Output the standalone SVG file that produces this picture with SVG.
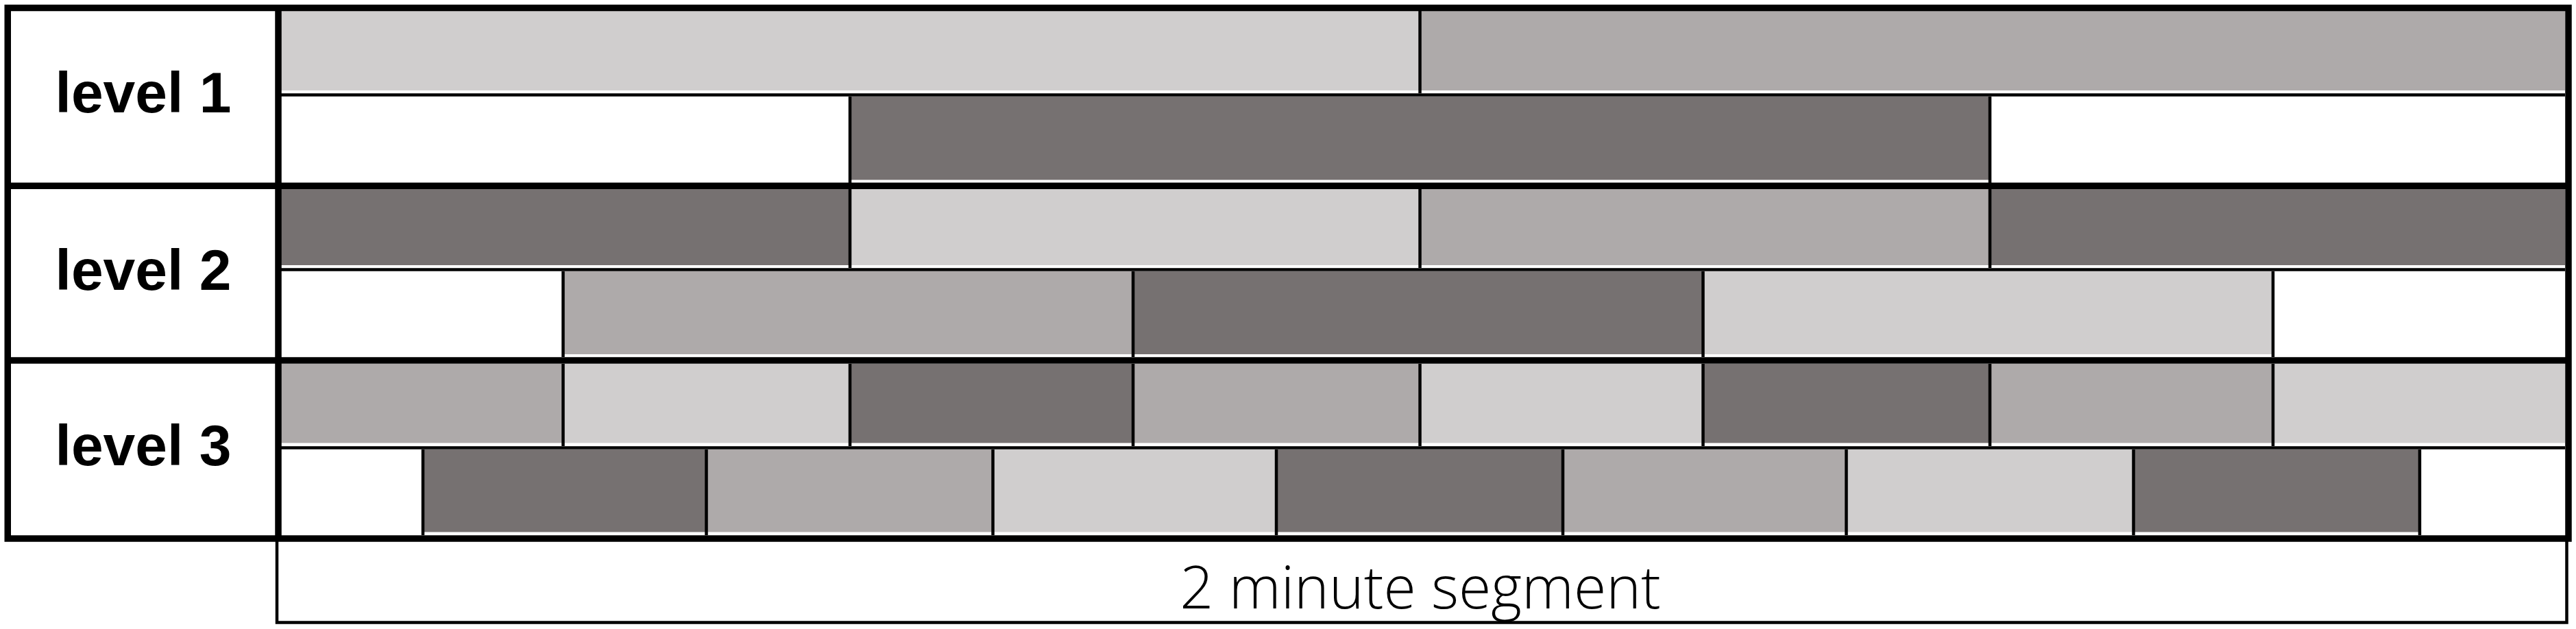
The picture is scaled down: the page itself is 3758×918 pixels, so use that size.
<svg xmlns="http://www.w3.org/2000/svg" width="3758" height="918" viewBox="0 0 3758 918">
<style>
.lt{fill:#D0CECE}
.md{fill:#AEAAAA}
.dk{fill:#767171}
.dv{stroke:#000;stroke-width:4.5;fill:none}
.thin{stroke:#000;stroke-width:4.5;fill:none}
.thick{stroke:#000;stroke-width:9.5;fill:none}
.lbl{font-family:"Liberation Sans",Arial,sans-serif;font-weight:bold;font-size:84px;fill:#000;text-anchor:middle}
.cap{font-family:"Open Sans","Liberation Sans",sans-serif;font-weight:300;font-size:86px;fill:#000;text-anchor:middle}
</style>
<rect x="0" y="0" width="3758" height="918" fill="#fff"/>

<g id="level1">
  <text class="lbl" x="209" y="164">level 1</text>
  <rect class="lt" x="410" y="16" width="1661.5" height="116"/>
  <rect class="md" x="2071.5" y="16" width="1670.5" height="116"/>
  <line class="dv" x1="2071.5" y1="16" x2="2071.5" y2="136"/>
  <rect class="dk" x="1240" y="141" width="1663" height="121.5"/>
  <line class="dv" x1="1240" y1="141" x2="1240" y2="267"/>
  <line class="dv" x1="2903" y1="141" x2="2903" y2="267"/>
</g>

<g id="level2">
  <text class="lbl" x="209" y="423">level 2</text>
  <rect class="dk" x="410" y="276" width="830" height="111"/>
  <rect class="lt" x="1240" y="276" width="831.5" height="111"/>
  <rect class="md" x="2071.5" y="276" width="831.5" height="111"/>
  <rect class="dk" x="2903" y="276" width="839" height="111"/>
  <line class="dv" x1="1240" y1="276" x2="1240" y2="391"/>
  <line class="dv" x1="2071.5" y1="276" x2="2071.5" y2="391"/>
  <line class="dv" x1="2903" y1="276" x2="2903" y2="391"/>
  <rect class="md" x="821.5" y="396" width="831.5" height="121"/>
  <rect class="dk" x="1653" y="396" width="831.5" height="121"/>
  <rect class="lt" x="2484.5" y="396" width="831.5" height="121"/>
  <line class="dv" x1="821.5" y1="396" x2="821.5" y2="521"/>
  <line class="dv" x1="1653" y1="396" x2="1653" y2="521"/>
  <line class="dv" x1="2484.5" y1="396" x2="2484.5" y2="521"/>
  <line class="dv" x1="3316" y1="396" x2="3316" y2="521"/>
</g>

<g id="level3">
  <text class="lbl" x="209" y="679">level 3</text>
  <rect class="md" x="410" y="531" width="411.5" height="115.5"/>
  <rect class="lt" x="821.5" y="531" width="418.5" height="115.5"/>
  <rect class="dk" x="1240" y="531" width="413" height="115.5"/>
  <rect class="md" x="1653" y="531" width="418.5" height="115.5"/>
  <rect class="lt" x="2071.5" y="531" width="413" height="115.5"/>
  <rect class="dk" x="2484.5" y="531" width="418.5" height="115.5"/>
  <rect class="md" x="2903" y="531" width="413" height="115.5"/>
  <rect class="lt" x="3316" y="531" width="426" height="115.5"/>
  <line class="dv" x1="821.5" y1="531" x2="821.5" y2="651"/>
  <line class="dv" x1="1240" y1="531" x2="1240" y2="651"/>
  <line class="dv" x1="1653" y1="531" x2="1653" y2="651"/>
  <line class="dv" x1="2071.5" y1="531" x2="2071.5" y2="651"/>
  <line class="dv" x1="2484.5" y1="531" x2="2484.5" y2="651"/>
  <line class="dv" x1="2903" y1="531" x2="2903" y2="651"/>
  <line class="dv" x1="3316" y1="531" x2="3316" y2="651"/>
  <rect class="dk" x="617" y="656" width="413.5" height="120.5"/>
  <rect class="md" x="1030.5" y="656" width="418" height="120.5"/>
  <rect class="lt" x="1448.5" y="656" width="413.5" height="120.5"/>
  <rect class="dk" x="1862" y="656" width="418" height="120.5"/>
  <rect class="md" x="2280" y="656" width="413.5" height="120.5"/>
  <rect class="lt" x="2693.5" y="656" width="419" height="120.5"/>
  <rect class="dk" x="3112.5" y="656" width="417.5" height="120.5"/>
  <line class="dv" x1="617" y1="656" x2="617" y2="781"/>
  <line class="dv" x1="1030.5" y1="656" x2="1030.5" y2="781"/>
  <line class="dv" x1="1448.5" y1="656" x2="1448.5" y2="781"/>
  <line class="dv" x1="1862" y1="656" x2="1862" y2="781"/>
  <line class="dv" x1="2280" y1="656" x2="2280" y2="781"/>
  <line class="dv" x1="2693.5" y1="656" x2="2693.5" y2="781"/>
  <line class="dv" x1="3112.5" y1="656" x2="3112.5" y2="781"/>
  <line class="dv" x1="3530" y1="656" x2="3530" y2="781"/>
</g>

<g id="segment">
  <polyline class="thin" points="404,786 404,908.5 3744.5,908.5 3744.5,786"/>
  <text class="cap" x="2072" y="888">2 minute segment</text>
</g>

<g id="grid">
  <line class="thin" x1="410" y1="138.5" x2="3742" y2="138.5"/>
  <line class="thin" x1="410" y1="393.5" x2="3742" y2="393.5"/>
  <line class="thin" x1="410" y1="653.5" x2="3742" y2="653.5"/>
  <line class="thick" x1="11" y1="271.25" x2="3747" y2="271.25"/>
  <line class="thick" x1="11" y1="526" x2="3747" y2="526"/>
  <line class="thick" x1="406" y1="11" x2="406" y2="786"/>
  <rect class="thick" x="11.25" y="11.5" width="3735.75" height="774.5"/>
</g>
</svg>
